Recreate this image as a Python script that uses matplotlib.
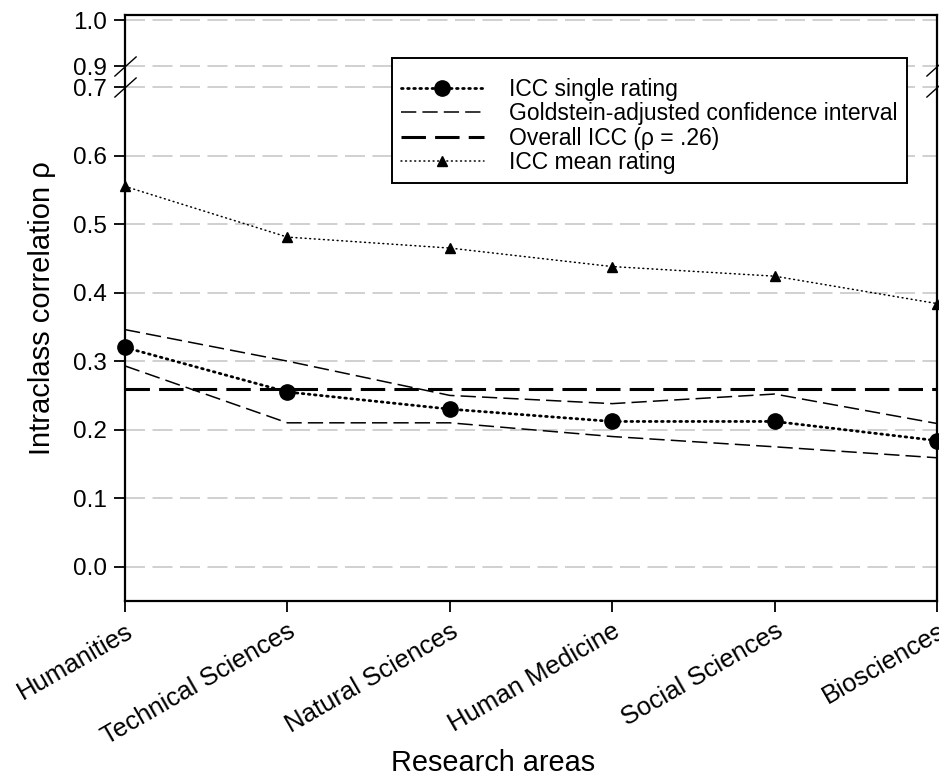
import matplotlib
matplotlib.use("Agg")
import matplotlib.pyplot as plt
import numpy as np
from matplotlib.path import Path

plt.rcParams['font.family'] = ['Liberation Sans', 'DejaVu Sans']

areas = ["Humanities", "Technical Sciences", "Natural Sciences",
         "Human Medicine", "Social Sciences", "Biosciences"]
icc_single = [0.320, 0.255, 0.230, 0.212, 0.212, 0.184]
ci_upper = [0.346, 0.300, 0.250, 0.238, 0.252, 0.209]
ci_lower = [0.293, 0.210, 0.210, 0.190, 0.175, 0.159]
icc_mean = [0.555, 0.481, 0.465, 0.438, 0.424, 0.384]
overall_icc = 0.26
yticks = [0.0, 0.1, 0.2, 0.3, 0.4, 0.5, 0.6, 0.7, 0.9, 1.0]

# broken axis: 0.7 -> 0.9 squeezed, upper part slightly compressed
GAP = 0.1531
UP = 0.6709


def fwd(y):
	y = np.asarray(y, dtype=float)
	return np.where(y <= 0.7, y,
	                np.where(y <= 0.9, 0.7 + (y - 0.7) * GAP,
	                         0.7 + 0.2 * GAP + (y - 0.9) * UP))


def inv(v):
	v = np.asarray(v, dtype=float)
	top = 0.7 + 0.2 * GAP
	return np.where(v <= 0.7, v,
	                np.where(v <= top, 0.7 + (v - 0.7) / GAP,
	                         0.9 + (v - top) / UP))


fig = plt.figure(figsize=(9.39, 7.84), dpi=100, facecolor='w')
ax = fig.add_axes([125 / 939, 183 / 784, 812 / 939, 586 / 784])
ax.set_yscale('function', functions=(fwd, inv))

x = np.arange(len(areas))

ax.plot(x, icc_single, color='black', lw=2.0, linestyle=(0, (0.6, 1.6)),
        dash_capstyle='round', marker='o', markersize=11, clip_on=False,
        zorder=5, label='ICC single rating')
ax.plot(x, ci_upper, color='black', lw=1.1, linestyle=(0, (10, 4)),
        label='Goldstein-adjusted confidence interval', zorder=4)
ax.plot(x, ci_lower, color='black', lw=1.1, linestyle=(0, (10, 4)), zorder=4)
ax.plot(x, [overall_icc] * len(areas), color='black', lw=2.2,
        linestyle=(0, (8, 3)), label=u'Overall ICC (\u03c1 = .26)', zorder=3)
ax.plot(x, icc_mean, color='black', lw=1.1, linestyle=(0, (0.6, 2.4)),
        dash_capstyle='round', marker='^', markersize=7, clip_on=False,
        zorder=5, label='ICC mean rating')

ax.set_xlim(0, len(areas) - 1)
ax.set_ylim(-0.05, 1.011)
ax.set_yticks(yticks)
ax.set_yticklabels([f"{t:.1f}" for t in yticks])
ax.set_xticks(x)
ax.set_xticklabels(areas, rotation=30, ha='right', va='top', rotation_mode='anchor')

ax.tick_params(axis='both', length=8, width=1.3, direction='out')
ax.tick_params(axis='y', pad=5, labelsize=17.5)
ax.tick_params(axis='x', pad=5, labelsize=18.5)

ax.yaxis.grid(True, color='#c8c8c8', lw=1.2, dashes=(12, 4.5))
ax.set_axisbelow(True)
for spine in ('top', 'right', 'bottom', 'left'):
	ax.spines[spine].set_linewidth(1.6)

# break marks on both vertical spines
slash = Path([(-1.0, -0.9), (1.0, 0.9)], [Path.MOVETO, Path.LINETO])
for xb in (0, len(areas) - 1):
	ax.plot([xb, xb], [0.9, 0.7], linestyle='none', marker=slash, markersize=16,
	        markeredgewidth=1.0, color='black', clip_on=False, zorder=6)

ax.set_ylabel(u'Intraclass correlation \u03c1', fontsize=21)
ax.yaxis.set_label_coords(-0.085, 0.5)
ax.set_xlabel('Research areas', fontsize=20.8)
ax.xaxis.set_label_coords((493 - 125) / 812, -0.252)

legend = ax.legend(loc='upper left', bbox_to_anchor=(392 / 939, 1 - 58 / 784),
                   bbox_transform=fig.transFigure, borderaxespad=0, fontsize=16.5,
                   handlelength=3.6, handletextpad=1.1, labelspacing=0.05,
                   borderpad=0.4, fancybox=False, framealpha=1, edgecolor='black',
                   title=' ', title_fontsize=7)
legend.get_frame().set_linewidth(1.4)
legend.set_zorder(10)

plt.savefig("out.png", dpi=100, facecolor='w')
